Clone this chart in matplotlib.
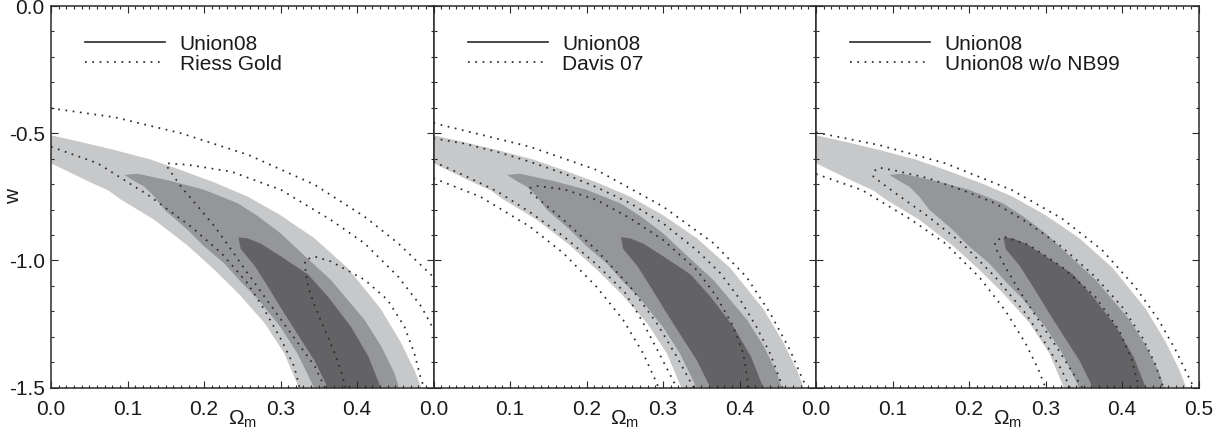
import numpy as np
import matplotlib
matplotlib.use('Agg')
import matplotlib.pyplot as plt
from matplotlib.lines import Line2D

plt.rcParams['font.family'] = ['Liberation Sans', 'DejaVu Sans']
plt.rcParams['mathtext.fontset'] = 'custom'
plt.rcParams['mathtext.rm'] = 'Liberation Sans'
plt.rcParams['mathtext.it'] = 'Liberation Sans:italic'
plt.rcParams['axes.unicode_minus'] = False

# Union08 confidence regions (Omega_m, w), same in all three panels
light_top = [(0.0, -0.508), (0.04, -0.535), (0.083, -0.566), (0.13, -0.603), (0.17, -0.645),
             (0.214, -0.694), (0.257, -0.749), (0.30, -0.822), (0.344, -0.912), (0.388, -1.030),
             (0.431, -1.190), (0.457, -1.320), (0.475, -1.430), (0.484, -1.50)]
light_bot = [(0.0, -0.618), (0.048, -0.688), (0.075, -0.725), (0.091, -0.760), (0.135, -0.840),
             (0.178, -0.940), (0.213, -1.035), (0.245, -1.130), (0.279, -1.245), (0.305, -1.365),
             (0.324, -1.50)]
mid_top = [(0.096, -0.664), (0.113, -0.659), (0.157, -0.688), (0.200, -0.722), (0.244, -0.775),
           (0.270, -0.825), (0.300, -0.893), (0.322, -0.955), (0.366, -1.077), (0.410, -1.234),
           (0.432, -1.339), (0.449, -1.443), (0.455, -1.50)]
mid_bot = [(0.096, -0.664), (0.110, -0.690), (0.122, -0.710), (0.135, -0.749), (0.148, -0.800),
           (0.178, -0.878), (0.200, -0.944), (0.226, -1.010), (0.250, -1.090), (0.270, -1.150),
           (0.300, -1.262), (0.322, -1.365), (0.344, -1.50)]
dark_top = [(0.245, -0.909), (0.257, -0.913), (0.275, -0.935), (0.301, -0.985), (0.336, -1.055),
            (0.362, -1.142), (0.392, -1.260), (0.415, -1.378), (0.431, -1.50)]
dark_bot = [(0.245, -0.909), (0.248, -0.955), (0.266, -1.020), (0.283, -1.100), (0.305, -1.208),
            (0.327, -1.312), (0.344, -1.391), (0.362, -1.50)]

# comparison samples (dotted contours)
rg_outer_top = [(0.0, -0.402), (0.083, -0.437), (0.170, -0.500), (0.258, -0.585), (0.345, -0.703),
                (0.410, -0.828), (0.454, -0.933), (0.488, -1.031), (0.500, -1.065)]
rg_outer_bot = [(0.0, -0.553), (0.061, -0.618), (0.127, -0.743), (0.183, -0.867), (0.223, -0.972),
                (0.257, -1.090), (0.279, -1.194), (0.301, -1.312), (0.318, -1.417), (0.325, -1.50)]
rg_mid = [(0.358, -1.50), (0.345, -1.417), (0.323, -1.325), (0.301, -1.234), (0.279, -1.142),
          (0.257, -1.050), (0.236, -0.959), (0.214, -0.867), (0.192, -0.788), (0.170, -0.710),
          (0.153, -0.637), (0.151, -0.618), (0.179, -0.624), (0.236, -0.651), (0.301, -0.723),
          (0.366, -0.841), (0.410, -0.933), (0.454, -1.064), (0.484, -1.181), (0.500, -1.270)]
rg_in = [(0.385, -1.50), (0.380, -1.443), (0.371, -1.365), (0.358, -1.273), (0.345, -1.181),
         (0.336, -1.103), (0.332, -1.024), (0.332, -0.998), (0.345, -0.985), (0.366, -1.004),
         (0.410, -1.076), (0.440, -1.155), (0.462, -1.260), (0.475, -1.365), (0.484, -1.47),
         (0.488, -1.50)]

dv_outer_top = [(0.0, -0.460), (0.061, -0.505), (0.126, -0.553), (0.213, -0.644), (0.300, -0.788),
                (0.366, -0.932), (0.409, -1.064), (0.440, -1.207), (0.466, -1.352), (0.483, -1.470),
                (0.488, -1.50)]
dv_outer_bot = [(0.0, -0.677), (0.061, -0.749), (0.126, -0.867), (0.170, -0.972), (0.213, -1.103),
                (0.248, -1.234), (0.274, -1.365), (0.292, -1.483), (0.294, -1.50)]
dv_mid_top = [(0.0, -0.520), (0.039, -0.540), (0.083, -0.573), (0.126, -0.612), (0.170, -0.658),
              (0.213, -0.712), (0.257, -0.775), (0.300, -0.854), (0.344, -0.959), (0.375, -1.050),
              (0.401, -1.155), (0.422, -1.260), (0.440, -1.365), (0.453, -1.470), (0.456, -1.50)]
dv_mid_bot = [(0.0, -0.612), (0.039, -0.664), (0.083, -0.728), (0.126, -0.810), (0.170, -0.905),
              (0.213, -1.015), (0.250, -1.125), (0.272, -1.234), (0.295, -1.365), (0.318, -1.50)]
dv_in = [(0.340, -1.50), (0.318, -1.378), (0.292, -1.247), (0.257, -1.103), (0.213, -0.959),
         (0.170, -0.841), (0.144, -0.775), (0.125, -0.729), (0.125, -0.716), (0.135, -0.707),
         (0.170, -0.720), (0.213, -0.762), (0.257, -0.834), (0.300, -0.919), (0.344, -1.037),
         (0.370, -1.142), (0.392, -1.260), (0.405, -1.365), (0.412, -1.50)]

nb_outer_top = [(0.0, -0.497), (0.082, -0.546), (0.169, -0.618), (0.256, -0.723), (0.321, -0.834),
                (0.374, -0.959), (0.417, -1.103), (0.448, -1.234), (0.470, -1.352), (0.487, -1.457),
                (0.494, -1.50)]
nb_outer_bot = [(0.0, -0.660), (0.060, -0.723), (0.125, -0.841), (0.169, -0.933), (0.213, -1.064),
                (0.247, -1.195), (0.274, -1.326), (0.291, -1.430), (0.300, -1.50)]
nb_mid = [(0.332, -1.50), (0.321, -1.430), (0.300, -1.326), (0.274, -1.208), (0.234, -1.064),
          (0.191, -0.933), (0.147, -0.828), (0.104, -0.736), (0.075, -0.671), (0.075, -0.651),
          (0.082, -0.635), (0.104, -0.647), (0.147, -0.677), (0.191, -0.723), (0.234, -0.775),
          (0.278, -0.854), (0.321, -0.946), (0.365, -1.064), (0.400, -1.182), (0.426, -1.299),
          (0.443, -1.404), (0.454, -1.50)]
nb_in = [(0.348, -1.50), (0.339, -1.457), (0.317, -1.352), (0.291, -1.234), (0.265, -1.116),
         (0.247, -1.024), (0.234, -0.946), (0.234, -0.926), (0.245, -0.906), (0.278, -0.939),
         (0.321, -1.024), (0.365, -1.142), (0.396, -1.273), (0.413, -1.391), (0.422, -1.50)]

panel_names = ['Riess Gold', 'Davis 07', 'Union08 w/o NB99']
panel_curves = [[rg_outer_top, rg_outer_bot, rg_mid, rg_in],
                [dv_outer_top, dv_outer_bot, dv_mid_top, dv_mid_bot, dv_in],
                [nb_outer_top, nb_outer_bot, nb_mid, nb_in]]

x_ticks = [0.0, 0.1, 0.2, 0.3, 0.4, 0.5]
y_ticks = [0.0, -0.5, -1.0, -1.5]
y_ticklabels = ['0.0', '-0.5', '-1.0', '-1.5']

grays = ['#c7c8ca', '#95969a', '#636365']
ink = '#2a2a2a'
dots = (0, (1, 3.2))


def xy(pts):
    a = np.array(pts)
    return a[:, 0], a[:, 1]


def region(top, bot):
    xt, yt = xy(top)
    xb, yb = xy(bot)
    return np.concatenate([xt, xb[::-1]]), np.concatenate([yt, yb[::-1]])


fig = plt.figure(figsize=(12.26, 4.33), dpi=100)
W, H = 1226.0, 433.0
left0, pw = 51.0, 382.5
top_px, bot_px = 6.0, 387.7

for i in range(3):
    ax = fig.add_axes([(left0 + i * pw) / W, (H - bot_px) / H, pw / W, (bot_px - top_px) / H])

    for (top, bot), c in zip([(light_top, light_bot), (mid_top, mid_bot), (dark_top, dark_bot)], grays):
        px, py = region(top, bot)
        ax.fill(px, py, color=c, lw=0, zorder=1)

    for pts in panel_curves[i]:
        cx, cy = xy(pts)
        ax.plot(cx, cy, color=ink, lw=1.25, ls=dots, zorder=3)

    ax.set_xlim(0, 0.5)
    ax.set_ylim(-1.5, 0)

    ax.set_xticks(x_ticks)
    ax.set_xticks(np.arange(0, 0.5001, 0.01), minor=True)
    ax.set_yticks(y_ticks)
    ax.set_yticks(np.arange(-1.5, 0.001, 0.1), minor=True)
    xl = ['%.1f' % t for t in x_ticks]
    if i < 2:
        xl[-1] = ''
    ax.set_xticklabels(xl)
    if i == 0:
        ax.set_yticklabels(y_ticklabels)
    else:
        ax.set_yticklabels([])

    ax.tick_params(which='both', direction='in', top=True, right=True,
                   color=ink, width=0.8, labelsize=15, labelcolor='#1a1a1a')
    ax.tick_params(which='major', length=5)
    ax.tick_params(which='minor', length=2.4)
    ax.tick_params(axis='x', which='both', pad=8.5)
    ax.tick_params(axis='y', which='both', pad=4.5)
    for s in ax.spines.values():
        s.set_color(ink)
        s.set_linewidth(1.1)
        s.set_zorder(5)

    ax.text(0.5, -0.083, r'$\Omega_\mathrm{m}$', transform=ax.transAxes,
            ha='center', va='center', fontsize=15, color='#1a1a1a')
    if i == 0:
        ax.text(-0.098, 0.5, 'w', transform=ax.transAxes, rotation=90,
                ha='center', va='center', fontsize=15, color='#1a1a1a')

    handles = [Line2D([], [], color=ink, lw=1.2, ls='-'),
               Line2D([], [], color=ink, lw=1.25, ls=dots)]
    ax.legend(handles, ['Union08', panel_names[i]], loc='upper left',
              bbox_to_anchor=(0.089, 0.925), frameon=False, fontsize=15,
              handlelength=3.85, handletextpad=0.7, labelspacing=0.05,
              borderaxespad=0, borderpad=0, labelcolor='#1a1a1a')

fig.savefig('out.png', dpi=100)
